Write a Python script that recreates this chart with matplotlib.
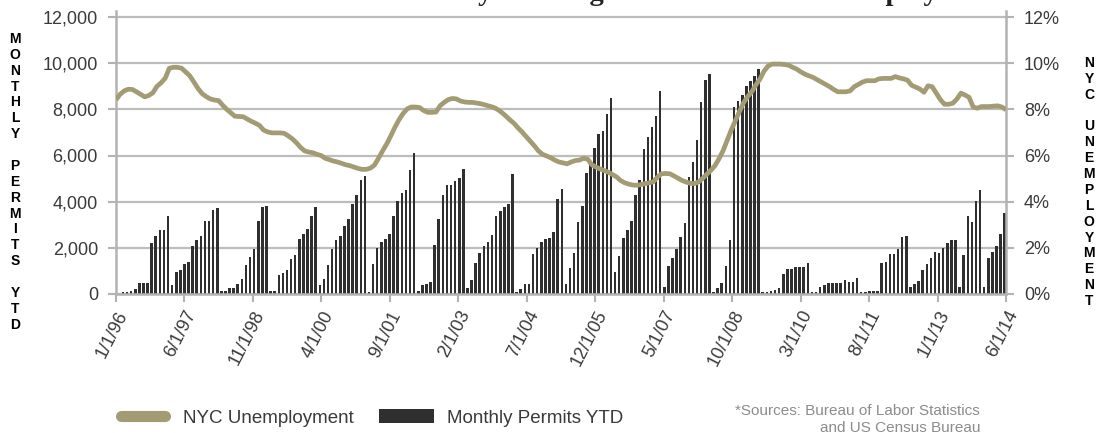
import matplotlib
matplotlib.use("Agg")
import matplotlib.pyplot as plt
from matplotlib.lines import Line2D
from matplotlib.patches import Patch
from matplotlib.legend_handler import HandlerLine2D
from matplotlib.ticker import StrMethodFormatter
import numpy as np

plt.rcParams['font.family'] = ['Liberation Sans', 'DejaVu Sans']

# ---------------- data ----------------
tick_labels = ["1/1/96", "6/1/97", "11/1/98", "4/1/00", "9/1/01", "2/1/03", "7/1/04",
               "12/1/05", "5/1/07", "10/1/08", "3/1/10", "8/1/11", "1/1/13", "6/1/14"]

# Monthly permits YTD (one list per yearly cycle)
permits_lead = [0, 0]
permits_c00 = [100, 100, 120, 230, 490, 490, 490, 2200, 2530, 2790, 2790, 3370]
permits_c01 = [370, 940, 1050, 1280, 1400, 2060, 2350, 2530, 3170, 3170, 3630, 3740]
permits_c02 = [110, 110, 260, 260, 420, 630, 1240, 1610, 1970, 3180, 3770, 3830]
permits_c03 = [110, 110, 820, 920, 1020, 1510, 1680, 2390, 2590, 2820, 3400, 3770]
permits_c04 = [370, 660, 1240, 1960, 2320, 2500, 2950, 3270, 3890, 4300, 4920, 5110]
permits_c05 = [100, 1300, 2010, 2240, 2400, 2620, 3370, 4030, 4390, 4520, 5370, 6120]
permits_c06 = [110, 390, 420, 520, 2130, 3240, 4300, 4710, 4730, 4880, 5020, 5400]
permits_c07 = [250, 590, 1340, 1770, 2060, 2260, 2550, 3370, 3580, 3770, 3890, 5220]
permits_c08 = [100, 220, 420, 420, 1730, 2010, 2260, 2400, 2430, 2680, 4130, 4560]
permits_c09 = [450, 1120, 1760, 3120, 3830, 5250, 5680, 6320, 6950, 7080, 7780, 8490]
permits_c10 = [960, 1650, 2430, 2780, 3170, 4270, 4950, 6290, 6820, 7220, 7730, 8780]
permits_c11 = [300, 1220, 1540, 1960, 2490, 3080, 5080, 5710, 6680, 8330, 9270, 9550]
permits_c12 = [90, 260, 470, 1210, 2360, 8120, 8350, 8620, 9010, 9220, 9440, 9730]
permits_c13 = [90, 90, 115, 190, 270, 850, 1090, 1090, 1190, 1190, 1190, 1340]
permits_c14 = [90, 90, 300, 390, 460, 460, 460, 460, 620, 500, 500, 700]
permits_c15 = [70, 70, 115, 115, 115, 1340, 1370, 1730, 1730, 1960, 2480, 2530]
permits_c16 = [300, 420, 560, 1050, 1300, 1580, 1810, 1770, 1990, 2230, 2320, 2360]
permits_c17 = [300, 1680, 3400, 3120, 4030, 4520]
permits_c18 = [300, 1550, 1800, 2100, 2580, 3510]

# NYC unemployment rate (%)
unemployment = [
    8.42, 8.65, 8.80, 8.87, 8.86, 8.76, 8.65, 8.54, 8.60, 8.72,
    9.00, 9.15, 9.35, 9.78, 9.82, 9.82, 9.78, 9.62, 9.45, 9.18,
    8.90, 8.68, 8.55, 8.45, 8.40, 8.38, 8.18, 8.00, 7.85, 7.70,
    7.69, 7.68, 7.58, 7.48, 7.40, 7.30, 7.10, 7.02, 6.98, 6.98,
    6.98, 6.96, 6.85, 6.72, 6.55, 6.35, 6.20, 6.15, 6.12, 6.05,
    6.00, 5.88, 5.82, 5.76, 5.72, 5.66, 5.60, 5.56, 5.50, 5.44,
    5.40, 5.40, 5.45, 5.58, 5.88, 6.20, 6.50, 6.85, 7.22, 7.55,
    7.82, 8.02, 8.10, 8.10, 8.08, 7.95, 7.87, 7.87, 7.88, 8.15,
    8.30, 8.42, 8.47, 8.45, 8.36, 8.32, 8.30, 8.30, 8.27, 8.24,
    8.19, 8.14, 8.09, 8.00, 7.87, 7.72, 7.55, 7.40, 7.20, 7.02,
    6.82, 6.62, 6.42, 6.20, 6.05, 5.98, 5.90, 5.80, 5.72, 5.68,
    5.64, 5.72, 5.78, 5.80, 5.88, 5.84, 5.60, 5.50, 5.42, 5.35,
    5.28, 5.18, 5.08, 4.92, 4.82, 4.76, 4.72, 4.71, 4.74, 4.78,
    4.82, 4.86, 5.06, 5.21, 5.22, 5.21, 5.12, 5.02, 4.92, 4.85,
    4.80, 4.78, 4.85, 5.00, 5.18, 5.35, 5.55, 5.85, 6.20, 6.65,
    7.10, 7.50, 7.90, 8.28, 8.55, 8.76, 9.05, 9.31, 9.65, 9.88,
    9.96, 9.96, 9.96, 9.94, 9.91, 9.82, 9.74, 9.62, 9.52, 9.45,
    9.38, 9.28, 9.18, 9.08, 8.98, 8.86, 8.76, 8.76, 8.76, 8.80,
    8.98, 9.08, 9.18, 9.24, 9.24, 9.24, 9.32, 9.34, 9.34, 9.34,
    9.42, 9.36, 9.32, 9.26, 9.04, 8.96, 8.88, 8.74, 9.02, 8.98,
    8.70, 8.42, 8.22, 8.22, 8.26, 8.44, 8.70, 8.62, 8.52, 8.10,
    8.05, 8.12, 8.12, 8.12, 8.14, 8.15, 8.10, 7.98,
]

permits = (permits_lead + permits_c00 + permits_c01 + permits_c02 + permits_c03 +
           permits_c04 + permits_c05 + permits_c06 + permits_c07 + permits_c08 +
           permits_c09 + permits_c10 + permits_c11 + permits_c12 + permits_c13 +
           permits_c14 + permits_c15 + permits_c16 + permits_c17 + permits_c18)

# ---------------- styling ----------------
KHAKI = '#A39B73'
BAR = '#2f2f2f'
GRID = '#bdbdbd'
AXC = '#b3b3b3'
TXT = '#3a3a3a'

W, H = 1111, 433
fig = plt.figure(figsize=(W / 100, H / 100), dpi=100)
fig.patch.set_facecolor('white')

ax_left, ax_right, ax_bottom = 116, 1006, 294
ax_top = 11
ax = fig.add_axes([ax_left / W, 1 - ax_bottom / H, (ax_right - ax_left) / W, (ax_bottom - ax_top) / H])
ax2 = ax.twinx()

n = len(permits)
x = np.arange(n)
x_line = np.arange(len(unemployment))

ax.bar(x, permits, width=-0.62, align='edge', color=BAR, edgecolor='none', zorder=2)
ax2.plot(x_line, unemployment, color=KHAKI, lw=3.4, solid_joinstyle='round',
         solid_capstyle='butt', zorder=3)

ax.set_xlim(0, n - 1)
ymax = 12000 * (ax_bottom - ax_top) / (ax_bottom - 17)
ax.set_ylim(0, ymax)
ax2.set_ylim(0, ymax / 1000)

ax.set_yticks(np.arange(0, 12001, 2000))
ax.yaxis.set_major_formatter(StrMethodFormatter('{x:,.0f}'))
ax2.set_yticks(np.arange(0, 13, 2))
ax2.yaxis.set_major_formatter(StrMethodFormatter('{x:.0f}%'))

ax.set_xticks(np.linspace(0, n - 1, len(tick_labels)))
ax.set_xticklabels(tick_labels, rotation=63, ha='right', rotation_mode='anchor')

ax.set_axisbelow(True)
ax.yaxis.grid(True, color=GRID, lw=1.6)
ax.xaxis.grid(False)

for a in (ax, ax2):
    a.spines['top'].set_visible(False)
ax.spines['right'].set_visible(False)
ax2.spines['left'].set_visible(False)
ax2.spines['bottom'].set_visible(False)
for sp in (ax.spines['left'], ax.spines['bottom'], ax2.spines['right']):
    sp.set_color(AXC)
    sp.set_linewidth(1.8)

ax.tick_params(axis='y', direction='out', length=6, width=1.5, color=AXC,
               labelsize=13, labelcolor=TXT, pad=7)
ax2.tick_params(axis='y', direction='out', length=6, width=1.5, color=AXC,
                labelsize=13, labelcolor=TXT, pad=7)
ax.tick_params(axis='x', direction='out', length=6, width=1.5, color=AXC,
               labelsize=13, labelcolor=TXT, pad=4)

# stacked axis labels
fig.text(15 / W, 1 - 32 / H, '\n'.join("MONTHLY PERMITS YTD"), ha='center', va='top',
         fontsize=10, fontweight='bold', color='black', linespacing=1.17)
fig.text(1089 / W, 1 - 56 / H, '\n'.join("NYC UNEMPLOYMENT"), ha='center', va='top',
         fontsize=10, fontweight='bold', color='black', linespacing=1.17)

# title (cut off at top of figure, as in the reference)
fig.text(388 / W, 1 - 0.5 / H, "Monthly Building Permits & NYC Unemployment",
         ha='left', va='baseline', fontsize=20.5, fontweight='bold',
         family='Liberation Serif', color='#222222')

# legend
handles = [Line2D([], [], color=KHAKI, lw=8, solid_capstyle='round'),
           Patch(facecolor=BAR, edgecolor='none')]
fig.legend(handles, ["NYC Unemployment", "Monthly Permits YTD"],
           handler_map={Line2D: HandlerLine2D(numpoints=2, marker_pad=0.3)},
           loc='center left', bbox_to_anchor=(115 / W, 1 - 418 / H), ncol=2,
           frameon=False, fontsize=13.5, handlelength=2.95, handleheight=0.75,
           handletextpad=0.7, columnspacing=1.3, borderpad=0, borderaxespad=0,
           labelcolor=TXT)

fig.text(980 / W, 1 - 404 / H, "*Sources: Bureau of Labor Statistics\nand US Census Bureau",
         ha='right', va='top', multialignment='right', fontsize=11, color='#8c8c8c',
         linespacing=1.3)

fig.savefig('out.png', dpi=100, facecolor='white')
